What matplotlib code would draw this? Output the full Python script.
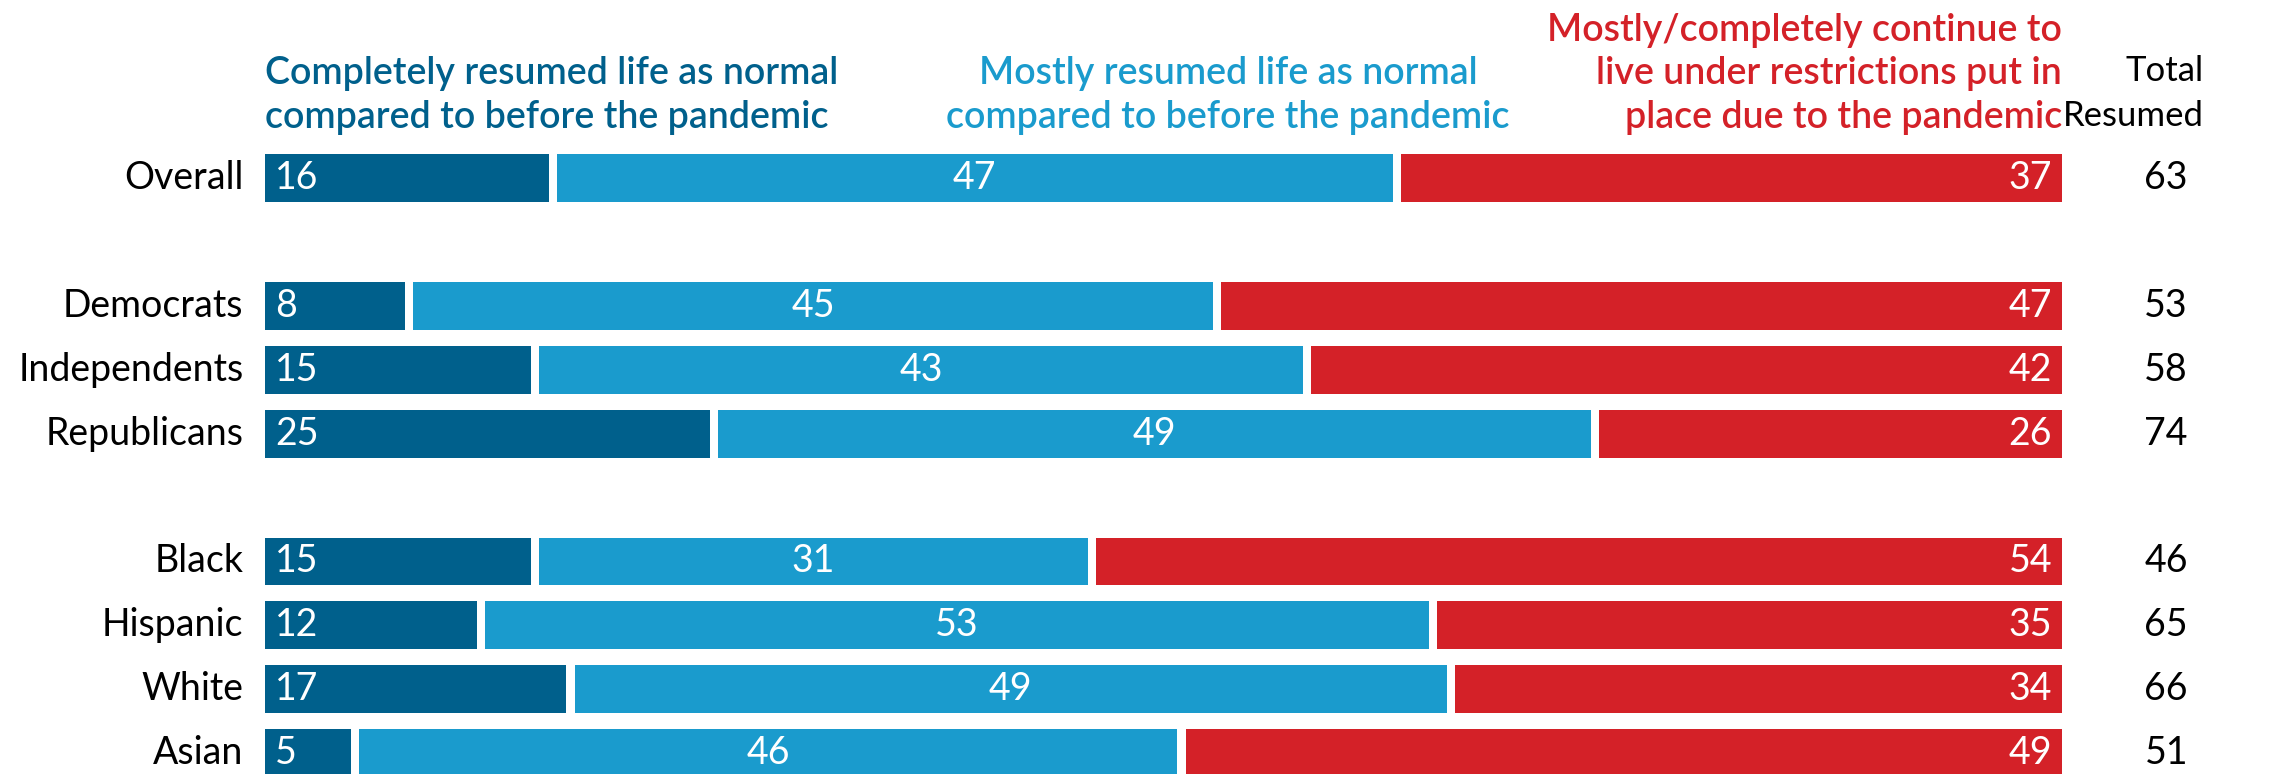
import numpy as np
import matplotlib.pyplot as plt

plt.rcParams['font.family'] = ['Lato', 'DejaVu Sans']

# Data
groups = ["Overall", "Democrats", "Independents", "Republicans",
          "Black", "Hispanic", "White", "Asian"]
rows = [0, 2, 3, 4, 6, 7, 8, 9]
completely = [16, 8, 15, 25, 15, 12, 17, 5]
mostly = [47, 45, 43, 49, 31, 53, 49, 46]
restricted = [37, 47, 42, 26, 54, 35, 34, 49]
total_resumed = [63, 53, 58, 74, 46, 65, 66, 51]

series_labels = [
    "Completely resumed life as normal\ncompared to before the pandemic",
    "Mostly resumed life as normal\ncompared to before the pandemic",
    "Mostly/completely continue to\nlive under restrictions put in\nplace due to the pandemic",
]
colors = ["#00608C", "#1A9BCD", "#D42128"]

fig = plt.figure(figsize=(22.72, 7.74), dpi=100)
ax = fig.add_axes([0, 0, 1, 1])

gap = 0.45
h = 0.75
fs = 27

y = np.array(rows)
left = np.zeros(len(rows))
for k, vals in enumerate([completely, mostly, restricted]):
    vals = np.array(vals, dtype=float)
    l = left + (gap / 2 if k > 0 else 0)
    w = vals - (gap / 2 if k > 0 else 0) - (gap / 2 if k < 2 else 0)
    ax.barh(y, w, left=l, height=h, color=colors[k], linewidth=0)
    for yi, li, wi, v in zip(y, l, w, vals):
        if k == 0:
            ax.text(li + 0.55, yi, f"{int(v)}", color="white", fontsize=fs,
                    ha="left", va="center")
        elif k == 1:
            ax.text(li + wi / 2, yi, f"{int(v)}", color="white", fontsize=fs,
                    ha="center", va="center")
        else:
            ax.text(li + wi - 0.55, yi, f"{int(v)}", color="white", fontsize=fs,
                    ha="right", va="center")
    left = left + vals

# row labels and totals
for yi, g, t in zip(y, groups, total_resumed):
    ax.text(-1.2, yi, g, fontsize=fs, ha="right", va="center", color="black")
    ax.text(105.8, yi, f"{t}", fontsize=fs, ha="center", va="center", color="black")

# headers
hy = -0.68
ax.text(0, hy, series_labels[0], color=colors[0], fontsize=fs, ha="left",
        va="bottom", linespacing=1.3, fontweight="semibold")
ax.text(53.6, hy, series_labels[1], color=colors[1], fontsize=fs, ha="center",
        va="bottom", linespacing=1.3, fontweight="semibold", multialignment="center")
ax.text(100, hy, series_labels[2], color=colors[2], fontsize=fs, ha="right",
        va="bottom", linespacing=1.3, fontweight="semibold", multialignment="right")
ax.text(107.9, hy - 0.04, "Total\nResumed", color="black", fontsize=25, ha="right",
        va="bottom", linespacing=1.5, multialignment="right")

ax.set_xlim(-14.75, 111.69)
ax.set_ylim(9.325, -2.785)
ax.axis("off")

fig.savefig("out.png", dpi=100, facecolor="white")
